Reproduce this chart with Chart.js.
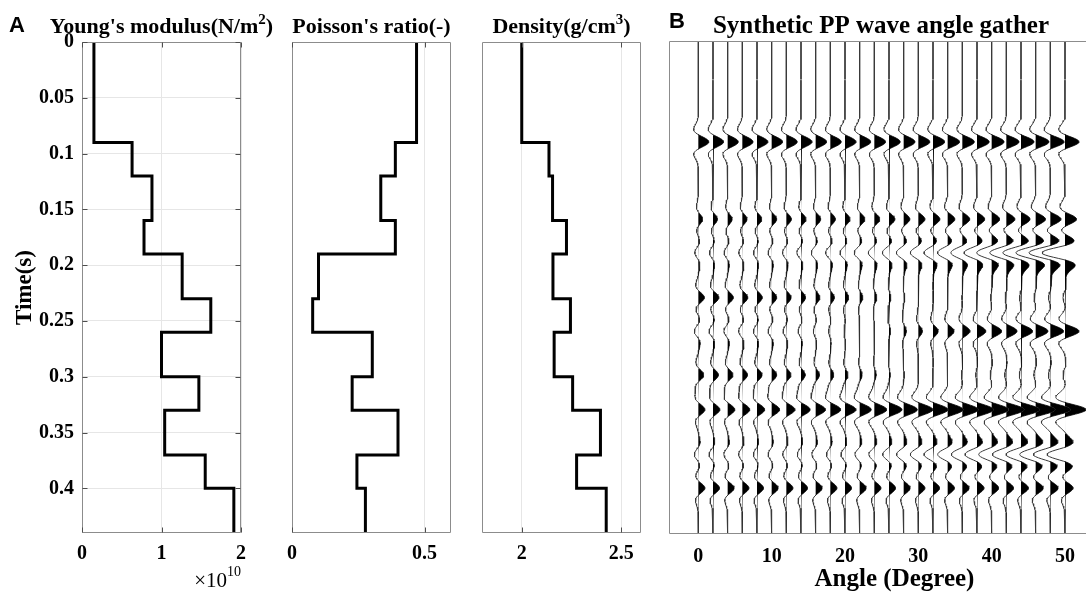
<!DOCTYPE html>
<html>
<head>
<meta charset="utf-8">
<script src="https://cdn.jsdelivr.net/npm/chart.js@4.4.1/dist/chart.umd.min.js"></script>
<style>
html, body { margin: 0; padding: 0; background: #fff; overflow: hidden; }
#wrap { position: relative; width: 1086px; height: 596px; overflow: hidden; }
canvas { position: absolute; left: 0; top: 0; }
</style>
</head>
<body>
<div id="wrap">
	<canvas id="young" width="1086" height="596"></canvas>
	<canvas id="poisson" width="1086" height="596"></canvas>
	<canvas id="density" width="1086" height="596"></canvas>
	<canvas id="gather" width="1120" height="596"></canvas>
</div>
<script>
// well logs (layer tops in s, one value per layer)
const layerTops = [0, 0.09, 0.12, 0.16, 0.19, 0.23, 0.26, 0.3, 0.33, 0.37, 0.4]
const logBottom = 0.44
const youngs = [0.15, 0.63, 0.88, 0.78, 1.26, 1.62, 1.0, 1.47, 1.04, 1.55, 1.91] // x 10^10
const poisson = [0.47, 0.39, 0.335, 0.39, 0.1, 0.078, 0.303, 0.227, 0.4, 0.245, 0.277]
const density = [2.0, 2.137, 2.155, 2.225, 2.157, 2.245, 2.163, 2.256, 2.396, 2.276, 2.425]

// axis ticks
const timeTicks = [0, 0.05, 0.1, 0.15, 0.2, 0.25, 0.3, 0.35, 0.4]
const timeTickLabels = ['0', '0.05', '0.1', '0.15', '0.2', '0.25', '0.3', '0.35', '0.4']
const youngTicks = [0, 1, 2]
const poissonTicks = [0, 0.5]
const densityTicks = [2, 2.5]
const angleTicks = [0, 10, 20, 30, 40, 50]

// angle gather: trace angles, reflection times and amplitude per trace
const angles = [0, 2, 4, 6, 8, 10, 12, 14, 16, 18, 20, 22, 24, 26, 28, 30, 32, 34, 36, 38, 40, 42, 44, 46, 48, 50]
const eventTimes = [0.09, 0.159, 0.189, 0.229, 0.259, 0.298, 0.329, 0.369, 0.399]
const amp090 = [10.5, 10.6, 10.7, 10.8, 10.9, 11, 11, 11, 11, 11, 11, 11.1, 11.2, 11.3, 11.4, 11.5, 11.7, 11.9, 12.1, 12.3, 12.5, 12.8, 13.1, 13.4, 13.7, 14]
const amp159 = [4.3, 4.4, 4.5, 4.7, 4.8, 5, 5, 5, 5, 5, 5, 5.2, 5.5, 5.8, 6.1, 6.5, 6.8, 7.1, 7.4, 7.7, 8, 8.5, 9.1, 9.8, 10.6, 11.5]
const amp189 = [-3.5, -3.5, -3.5, -3.5, -3.5, -3.5, -3.8, -4.1, -4.4, -4.7, -5, -5.5, -6, -6.6, -7.3, -8, -9, -10.2, -11.5, -13, -15, -16.6, -18.2, -19.8, -21.4, -23]
const amp229 = [6, 5.8, 5.6, 5.4, 5.2, 5, 4.8, 4.5, 4.2, 4, 3.7, 3.1, 2.5, 1.8, 1.1, 0.5, 0.2, -0.1, -0.4, -0.7, -1, -1.2, -1.4, -1.6, -1.8, -2]
const amp259 = [-4, -3.9, -3.8, -3.7, -3.6, -3.5, -3.2, -2.8, -2.3, -1.7, -1, -0.3, 0.5, 1.5, 2.7, 4, 5.2, 6.4, 7.6, 8.8, 10, 10.8, 11.6, 12.4, 13.2, 14]
const amp298 = [5.5, 5.4, 5.3, 5.2, 5.1, 5, 4.6, 4.2, 3.8, 3.4, 3, 2.4, 1.8, 1.2, 0.6, 0, -0.3, -0.6, -0.9, -1.2, -1.5, -1.6, -1.7, -1.8, -1.9, -2]
const amp329 = [6.5, 6.8, 7.1, 7.4, 7.7, 8, 8.6, 9.2, 9.8, 10.4, 11, 11.7, 12.4, 13.1, 13.8, 14.5, 15, 15.5, 16, 16.5, 17, 17.8, 18.6, 19.4, 20.2, 21]
const amp369 = [-4, -3.9, -3.8, -3.7, -3.6, -3.5, -3.6, -3.7, -3.8, -3.9, -4, -4.7, -5.5, -6.3, -7.1, -8, -9, -10, -11, -12, -13, -14, -15, -16, -17, -18]
const amp399 = [6.5, 6.5, 6.5, 6.5, 6.5, 6.5, 6.5, 6.5, 6.5, 6.5, 6.5, 6.5, 6.5, 6.5, 6.5, 6.5, 6.6, 6.7, 6.8, 6.9, 7, 7.2, 7.4, 7.6, 7.8, 8]
const eventAmps = [amp090, amp159, amp189, amp229, amp259, amp298, amp329, amp369, amp399]

const waveletFreq = 35 // Hz, Ricker
const wiggleGain = 0.136 // amplitude unit -> degrees of deflection
const sampleStep = 0.001

const H = 596
const serif = "'Liberation Serif', 'Times New Roman', serif"
const sans = "'Liberation Sans', Arial, sans-serif"
Chart.defaults.font.family = serif
Chart.defaults.color = '#000'

const setTicks = (values) => (scale) => {
	scale.ticks = values.map((value) => ({ value }))
}

// MATLAB-like frame with inward tick marks
const boxPlugin = {
	id: 'box',
	afterDatasetsDraw(chart, args, opts) {
		const { ctx, chartArea, scales } = chart
		const l = Math.round(chartArea.left) + 0.5
		const r = Math.round(chartArea.right) - 0.5
		const t = Math.round(chartArea.top) + 0.5
		const b = Math.round(chartArea.bottom) - 0.5
		const sides = opts.sides || 'ltrb'
		ctx.save()
		ctx.lineWidth = 1
		ctx.strokeStyle = '#8c8c8c'
		ctx.beginPath()
		if (sides.includes('l')) { ctx.moveTo(l, t); ctx.lineTo(l, b) }
		if (sides.includes('r')) { ctx.moveTo(r, t); ctx.lineTo(r, b) }
		if (sides.includes('t')) { ctx.moveTo(l, t); ctx.lineTo(r, t) }
		if (sides.includes('b')) { ctx.moveTo(l, b); ctx.lineTo(r, b) }
		ctx.stroke()
		if (opts.innerTicks) {
			const len = 5
			ctx.strokeStyle = '#4d4d4d'
			ctx.beginPath()
			scales.x.ticks.forEach((tick) => {
				const px = Math.round(scales.x.getPixelForValue(tick.value)) + 0.5
				ctx.moveTo(px, t); ctx.lineTo(px, t + len)
				ctx.moveTo(px, b); ctx.lineTo(px, b - len)
			})
			if (opts.yTicks) {
				scales.y.ticks.forEach((tick) => {
					const py = Math.round(scales.y.getPixelForValue(tick.value)) + 0.5
					ctx.moveTo(l, py); ctx.lineTo(l + len, py)
					ctx.moveTo(r, py); ctx.lineTo(r - len, py)
				})
			}
			ctx.stroke()
		}
		ctx.restore()
	},
}

// panel titles (with superscripts), panel letters and the x10^10 factor
const labelPlugin = {
	id: 'labels',
	afterDraw(chart, args, opts) {
		const { ctx, chartArea } = chart
		ctx.save()
		ctx.fillStyle = '#000'
		ctx.textBaseline = 'alphabetic'
		ctx.textAlign = 'left'
		if (opts.title) {
			const size = opts.titleSize || 22
			const main = 'bold ' + size + 'px ' + serif
			const sup = 'bold ' + Math.round(size * 0.68) + 'px ' + serif
			const parts = opts.title.map((p) => (typeof p === 'string' ? { text: p, font: main, dy: 0 } : { text: p.sup, font: sup, dy: -Math.round(size * 0.42) }))
			let width = 0
			parts.forEach((p) => { ctx.font = p.font; p.w = ctx.measureText(p.text).width; width += p.w })
			const cx = opts.titleX || (chartArea.left + chartArea.right) / 2
			let x = cx - width / 2
			parts.forEach((p) => {
				ctx.font = p.font
				ctx.fillText(p.text, x, 33 + p.dy)
				x += p.w
			})
		}
		if (opts.letter) {
			ctx.font = 'bold 22px ' + sans
			ctx.fillText(opts.letter.text, opts.letter.x, opts.letter.y)
		}
		if (opts.exponent) {
			ctx.textAlign = 'right'
			ctx.font = '14px ' + serif
			const right = chartArea.right
			ctx.fillText('10', right, 576)
			const supW = ctx.measureText('10').width
			ctx.font = '21px ' + serif
			ctx.fillText('\u00d710', right - supW, 587)
		}
		ctx.restore()
	},
}

const stepData = (values) => {
	const pts = values.map((v, i) => ({ x: v, y: layerTops[i] }))
	pts.push({ x: values[values.length - 1], y: logBottom })
	return pts
}

const tickFont = { size: 20, weight: 'bold' }
const gridColor = '#e6e6e6'

const logChart = (id, values, xMin, xMax, xTicks, area, extra) => {
	const canvas = document.getElementById(id)
	const showY = !!extra.showY
	const yWidth = showY ? area.left : 0
	return new Chart(canvas, {
		type: 'line',
		data: {
			datasets: [{
				data: stepData(values),
				borderColor: '#000',
				borderWidth: 3,
				pointRadius: 0,
				stepped: 'after',
				fill: false,
			}],
		},
		options: {
			indexAxis: 'y',
			responsive: false,
			animation: false,
			events: [],
			layout: { padding: { left: area.left - yWidth, top: area.top, right: canvas.width - area.right, bottom: 0 } },
			scales: {
				x: {
					type: 'linear',
					min: xMin,
					max: xMax,
					afterBuildTicks: setTicks(xTicks),
					afterFit: (s) => { s.height = H - area.bottom },
					ticks: { font: tickFont, padding: 9, autoSkip: false, maxRotation: 0, callback: (v) => String(v) },
					grid: { color: gridColor, drawTicks: false },
					border: { display: false },
				},
				y: {
					type: 'linear',
					reverse: true,
					min: 0,
					max: logBottom,
					display: showY,
					afterBuildTicks: setTicks(timeTicks),
					afterFit: (s) => { s.width = yWidth },
					ticks: { font: tickFont, padding: 8, autoSkip: false, callback: (v) => timeTickLabels[timeTicks.indexOf(v)] },
					grid: { color: gridColor, drawTicks: false },
					border: { display: false },
					title: { display: showY, text: 'Time(s)', font: { size: 23, weight: 'bold' }, padding: { top: 11, bottom: 0 } },
				},
			},
			plugins: {
				legend: { display: false },
				tooltip: { enabled: false },
				box: { innerTicks: true, yTicks: showY },
				labels: { title: extra.title, letter: extra.letter, exponent: extra.exponent },
			},
		},
		plugins: [boxPlugin, labelPlugin],
	})
}

logChart('young', youngs, 0, 2, youngTicks, { left: 82, right: 241, top: 42, bottom: 533 }, {
	showY: true,
	title: ["Young's modulus(N/m", { sup: '2' }, ')'],
	letter: { text: 'A', x: 9, y: 32 },
	exponent: true,
})
logChart('poisson', poisson, 0, 0.6, poissonTicks, { left: 292, right: 451, top: 42, bottom: 533 }, {
	title: ["Poisson's ratio(-)"],
})
logChart('density', density, 1.8, 2.6, densityTicks, { left: 482, right: 641, top: 42, bottom: 533 }, {
	title: ['Density(g/cm', { sup: '3' }, ')'],
})

// synthetic angle gather: each trace is a sum of Ricker wavelets
const ricker = (dt) => {
	const a = (Math.PI * waveletFreq * dt) ** 2
	return (1 - 2 * a) * Math.exp(-a)
}
const sampleTimes = []
for (let t = 0; t <= logBottom + 1e-9; t += sampleStep) sampleTimes.push(Math.round(t * 1000) / 1000)

const gatherSets = []
angles.forEach((angle, k) => {
	const trace = sampleTimes.map((t) => eventTimes.reduce((sum, te, e) => sum + eventAmps[e][k] * ricker(t - te), 0))
	gatherSets.push({
		data: trace.map((s, i) => ({ x: angle + wiggleGain * Math.max(s, 0), y: sampleTimes[i] })),
		borderColor: 'rgba(0,0,0,0)',
		borderWidth: 0,
		backgroundColor: '#000',
		pointRadius: 0,
		fill: { value: angle },
	})
	gatherSets.push({
		data: trace.map((s, i) => ({ x: angle + wiggleGain * s, y: sampleTimes[i] })),
		borderColor: '#3a3a3a',
		borderWidth: 1,
		pointRadius: 0,
		fill: false,
	})
})

// plot box runs past the right edge of the page, as in the reference
new Chart(document.getElementById('gather'), {
	type: 'line',
	data: { datasets: gatherSets },
	options: {
		indexAxis: 'y',
		responsive: false,
		animation: false,
		events: [],
		layout: { padding: { left: 669, top: 41, right: 0, bottom: 0 } },
		scales: {
			x: {
				type: 'linear',
				min: -4,
				max: 57.5,
				afterBuildTicks: setTicks(angleTicks),
				afterFit: (s) => { s.height = H - 534 },
				ticks: { font: tickFont, padding: 3, autoSkip: false, maxRotation: 0 },
				grid: { display: false },
				border: { display: false },
				title: { display: true, text: 'Angle (Degree)', font: { size: 25, weight: 'bold' }, padding: { top: 0, bottom: 1 } },
			},
			y: {
				type: 'linear',
				reverse: true,
				min: 0,
				max: logBottom,
				display: false,
			},
		},
		plugins: {
			legend: { display: false },
			tooltip: { enabled: false },
			box: { sides: 'ltb' },
			labels: { title: ['Synthetic PP wave angle gather'], titleSize: 25, titleX: 881, letter: { text: 'B', x: 669, y: 28 } },
		},
	},
	plugins: [boxPlugin, labelPlugin],
})
</script>
</body>
</html>
